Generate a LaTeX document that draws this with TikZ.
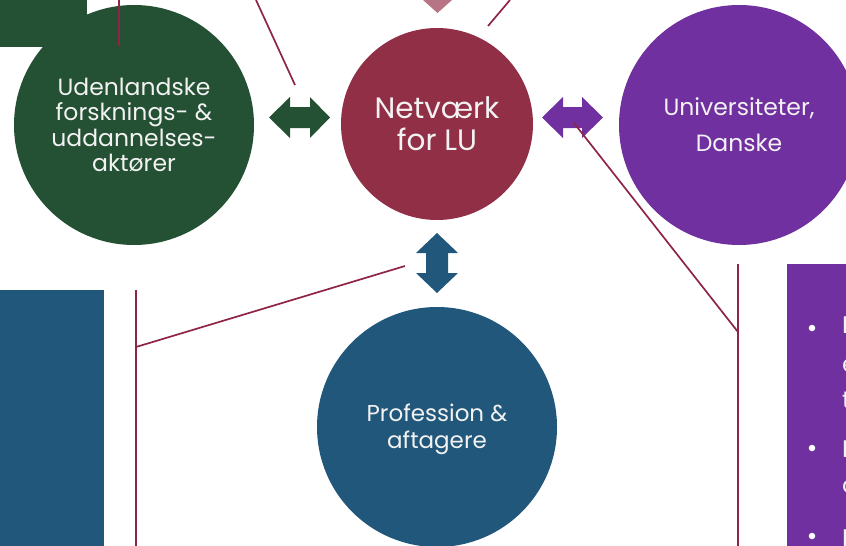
\documentclass[tikz,border=0pt]{standalone}
\usepackage{fontspec}
\setmainfont{Poppins}
\definecolor{dgreen}{HTML}{245033}
\definecolor{maroon}{HTML}{912F46}
\definecolor{lmaroon}{HTML}{B77485}
\definecolor{purp}{HTML}{7030A0}
\definecolor{dblue}{HTML}{21577B}
\definecolor{lline}{HTML}{8E2544}
\definecolor{txt}{HTML}{F2F2F2}
\tikzset{
  circ/.style={circle, inner sep=0pt, text=txt, align=center},
  conn/.style={draw=lline, line width=1.7pt},
  blt/.style={circle, fill=white, inner sep=0pt, minimum size=6.5pt},
  btxt/.style={anchor=west, inner sep=0pt, text=txt, font=\fontsize{24}{26}\selectfont}
}
\begin{document}
\begin{tikzpicture}[x=1pt,y=-1pt]
\useasboundingbox (0,0) rectangle (846,546);
\clip (0,0) rectangle (846,546);
% rectangles
\fill[dgreen] (0,0) rectangle (87,47);
\fill[dblue] (0,290) rectangle (104,546);
\fill[purp] (787,264) rectangle (846,546);
% circles
\node[circ, fill=dgreen, minimum size=240pt, font=\fontsize{23.5}{25.5}\selectfont] (ud) at (134,125) {Udenlandske\\forsknings- \&\\uddannelses-\\aktører};
\node[circ, fill=maroon, minimum size=192pt, font=\fontsize{29.5}{32}\selectfont] (net) at (437,124) {Netværk\\for LU};
\node[circ, fill=purp, minimum size=240pt, font=\fontsize{23.5}{36}\selectfont] (uni) at (739,125) {Universiteter,\\Danske};
\node[circ, fill=dblue, minimum size=240pt] (pro) at (437,427) {};
\node[circ, font=\fontsize{23}{27}\selectfont] (protxt) at (437,429) {Profession \&\\aftagere};
% pink partial arrow head at top
\fill[lmaroon] (423,0) -- (452,0) -- (437.5,13) -- cycle;
% double arrows
\fill[dgreen] (269,117.5) -- (290,97) -- (290,107) -- (310,107) -- (310,97) -- (330,117.5) -- (310,138) -- (310,128) -- (290,128) -- (290,138) -- cycle;
\fill[purp] (542,117.5) -- (563,97) -- (563,107) -- (582,107) -- (582,97) -- (603,117.5) -- (582,138) -- (582,128) -- (563,128) -- (563,138) -- cycle;
\fill[dblue] (437,233) -- (458,253) -- (448,253) -- (448,273) -- (458,273) -- (437,293) -- (416,273) -- (426,273) -- (426,253) -- (416,253) -- cycle;
% connector lines
\coordinate (a1) at (119,0); \coordinate (a2) at (119,46);
\coordinate (b1) at (256,0); \coordinate (b2) at (295,85);
\coordinate (c1) at (488,26); \coordinate (c2) at (510,0);
\coordinate (d1) at (574,123); \coordinate (d2) at (738,332);
\coordinate (e1) at (738,264); \coordinate (e2) at (738,546);
\coordinate (f1) at (136,290); \coordinate (f2) at (136,546);
\coordinate (g1) at (136,347); \coordinate (g2) at (405,266);
\draw[conn] (a1) -- (a2);
\draw[conn] (b1) -- (b2);
\draw[conn] (c1) -- (c2);
\draw[conn] (d1) -- (d2);
\draw[conn] (e1) -- (e2);
\draw[conn] (f1) -- (f2);
\draw[conn] (g1) -- (g2);
% bullets (text clipped at the right edge, as in the reference)
\node[blt] (p1) at (812,328) {};
\node[blt] (p2) at (812,448) {};
\node[blt] (p3) at (812,536) {};
\node[btxt, anchor=base west] (t1) at (842,333) {I};
\node[btxt, anchor=base west] (t2) at (842,372) {e};
\node[btxt, anchor=base west] (t3) at (842,408) {t};
\node[btxt, anchor=base west] (t4) at (842,457) {I};
\node[btxt, anchor=base west] (t5) at (842,493) {o};
\node[btxt, anchor=base west] (t6) at (842,546) {I};
\end{tikzpicture}
\end{document}
